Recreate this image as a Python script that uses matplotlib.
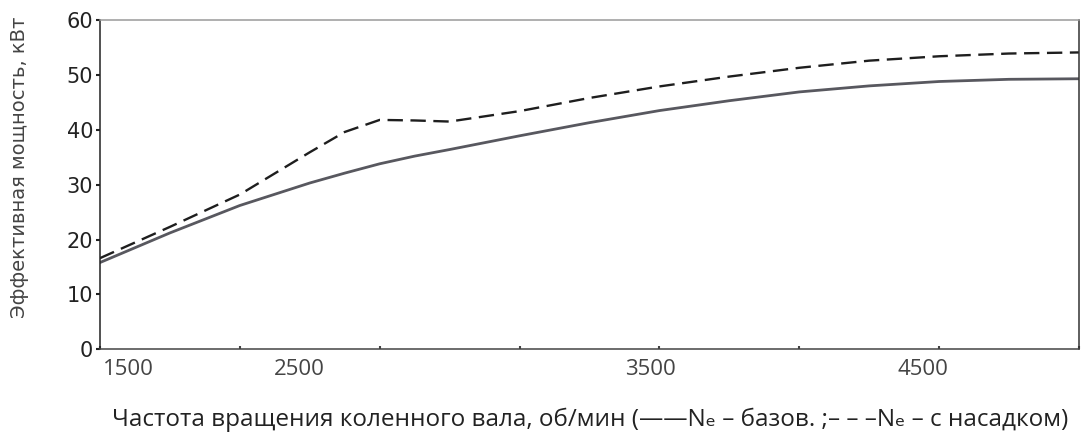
import matplotlib
matplotlib.use("Agg")
import matplotlib.pyplot as plt
import matplotlib.transforms as mtransforms

# -------------------------
# Data
# -------------------------
rpm = [1500, 1750, 2000, 2250, 2375, 2500, 2625, 2750, 3000, 3250, 3500,
       3750, 4000, 4250, 4500, 4750, 5000]
ne_base = [15.8, 21.2, 26.2, 30.3, 32.1, 33.8, 35.2, 36.4, 38.9, 41.3, 43.5,
           45.3, 46.9, 48.0, 48.8, 49.2, 49.3]
ne_nozzle = [16.6, 22.3, 28.2, 35.9, 39.6, 41.8, 41.7, 41.5, 43.4, 45.8, 47.9,
             49.7, 51.3, 52.6, 53.4, 53.9, 54.1]

x_ticks = [1500, 2500, 3500, 4500]
x_tick_labels = ["1500", "2500", "3500", "4500"]
y_ticks = [0, 10, 20, 30, 40, 50, 60]
y_tick_labels = ["0", "10", "20", "30", "40", "50", "60"]

y_label = "Эффективная мощность, кВт"
x_label = "Частота вращения коленного вала, об/мин (——Nₑ – базов. ;– – –Nₑ – с насадком)"

fig = plt.figure(figsize=(10.89, 4.36), dpi=100)
ax = fig.add_axes([0.0918, 0.199, 0.899, 0.755])

ax.plot(rpm, ne_base, color="#58585f", linewidth=2.0, solid_capstyle="round")
ax.plot(rpm, ne_nozzle, color="#1e1e1e", linewidth=1.7, dashes=(6.5, 3.2))

ax.set_xlim(1500, 5000)
ax.set_ylim(0, 60)

# spines look like a hand-drawn frame
ax.spines["left"].set_color("#222222")
ax.spines["bottom"].set_color("#444444")
ax.spines["right"].set_color("#333333")
ax.spines["top"].set_color("#9a9a9a")
for s in ax.spines.values():
    s.set_linewidth(1.1)

ax.set_yticks(y_ticks)
ax.set_yticklabels(y_tick_labels, family=["DejaVu Sans"],
                   fontsize=15, color="#222222")
ax.tick_params(axis="y", length=3, width=1.5, pad=2, colors="#222222")

ax.set_xticks(x_ticks)
ax.set_xticklabels(x_tick_labels, family=["Open Sans", "DejaVu Sans"],
                   fontsize=16, color="#222222")
ax.set_xticks(range(1500, 5001, 500), minor=True)
ax.tick_params(axis="x", which="both", length=2, width=1.5, direction="in",
               pad=7, colors="#444444")

# labels in the scan are shifted from their ticks
shifts_px = [28, -80, -9, -16]
for lab, dx in zip(ax.get_xticklabels(), shifts_px):
    lab.set_transform(lab.get_transform() +
                      mtransforms.ScaledTranslation(dx / 100, 0, fig.dpi_scale_trans))

fig.text(0.018, 0.617, y_label, rotation=90, ha="center", va="center",
         fontsize=14, color="#444444", family=["DejaVu Sans"])
fig.text(0.103, 0.037, x_label, ha="left", va="center", fontsize=17.5,
         color="#222222", family=["Open Sans", "DejaVu Sans"])

fig.savefig("out.png", dpi=100)
